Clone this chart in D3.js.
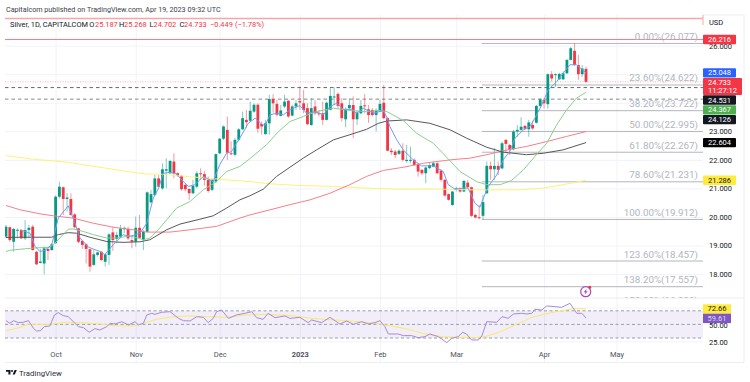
<!DOCTYPE html>
<html>

<head>
  <meta charset="utf8">
  <script src="https://d3js.org/d3.v7.min.js"></script>
  <style>
    html, body { margin: 0; padding: 0; background: #fff; }
    svg { display: block; }
    text { font-family: Roboto, sans-serif; }
    .axis text { fill: #131722; font-size: 7.5px; }
    .axis path, .axis line { display: none; }
    .grid path { display: none; }
    .grid line { stroke: #f0f3fa; }
    .grid text { display: none; }
    .month text { fill: #50535e; }
  </style>
</head>

<body>
  <svg id="chart" width="750" height="382"></svg>

  <script>
    // daily candles
    var opens = [
      19.31,19.64,19.13,19.52,19.54,19.25,19.54,19.66,18.78,18.39,
      18.37,18.88,18.84,19.08,20.71,21.04,20.63,20.63,20.09,19.60,
      19.16,19.04,18.87,18.32,18.67,18.78,18.43,18.67,19.46,19.23,
      19.31,19.57,19.58,19.19,19.13,19.62,19.19,19.48,20.51,20.77,
      21.35,21.00,21.62,21.53,21.94,21.53,21.44,21.12,20.98,20.83,
      21.06,21.53,21.50,21.30,20.95,21.24,22.23,22.74,23.05,22.23,
      22.18,22.70,23.07,23.40,23.37,23.69,23.93,23.26,22.90,23.28,
      24.13,23.96,23.54,23.87,24.07,23.55,23.87,24.06,23.98,23.81,
      23.22,23.87,23.63,23.63,23.40,23.75,24.20,24.31,23.98,23.42,
      23.81,23.92,23.42,23.63,23.91,23.77,23.75,23.57,23.69,24.00,
      23.46,22.32,22.29,22.21,22.32,21.96,21.97,22.00,21.84,21.65,
      21.53,21.71,21.76,21.88,21.62,21.30,20.80,20.42,20.95,21.00,
      20.89,21.20,21.04,20.07,19.99,20.04,20.83,21.79,21.67,21.79,
      21.70,22.70,22.52,22.37,23.00,23.05,23.19,23.07,23.22,23.30,
      23.89,24.10,23.95,25.00,24.97,24.82,24.82,25.03,25.50,25.82,
      25.32,25.00,25.187
    ];
    var closes = [
      19.66,19.19,19.58,19.55,19.25,19.54,19.62,18.84,18.34,18.44,
      18.90,18.81,19.04,20.71,21.06,20.63,20.68,20.07,19.64,19.13,
      19.02,18.88,18.26,18.69,18.76,18.49,18.69,19.39,19.19,19.37,
      19.60,19.62,19.25,19.13,19.62,19.27,19.48,20.86,20.80,21.35,
      21.06,21.67,21.67,21.96,21.53,21.47,20.97,20.97,20.83,21.09,
      21.53,21.50,21.30,20.91,21.30,22.20,22.74,23.17,22.25,22.20,
      22.70,23.07,23.46,23.32,23.72,23.93,23.09,23.17,23.28,24.13,
      23.98,23.58,23.73,24.04,23.52,23.87,23.98,24.01,23.75,23.25,
      23.81,23.63,23.60,23.40,24.00,24.24,24.22,23.89,23.46,23.77,
      23.92,23.42,23.66,23.89,23.89,23.57,23.57,23.73,23.96,23.46,
      22.32,22.27,22.17,22.32,22.00,22.00,22.00,21.82,21.59,21.53,
      21.73,21.82,21.88,21.53,21.30,20.75,20.60,20.89,21.00,20.89,
      21.26,21.04,20.04,19.98,19.96,20.52,21.79,21.67,21.79,21.65,
      22.58,22.56,22.35,22.99,23.05,23.16,23.09,23.31,23.10,23.89,
      24.12,23.98,25.00,24.85,25.00,25.01,25.03,25.50,25.91,25.32,
      25.00,25.20,24.733
    ];
    var highs = [
      19.72,19.66,19.62,19.60,19.57,19.89,19.72,19.72,18.81,18.88,
      18.96,18.90,19.08,20.75,21.24,21.06,20.83,20.83,20.13,19.62,
      19.19,19.08,18.88,18.84,18.78,18.81,18.73,19.43,19.66,19.48,
      19.72,19.66,19.66,19.31,20.01,20.07,19.54,20.89,20.94,21.47,
      21.47,21.88,22.06,22.00,22.23,21.57,21.47,21.18,21.00,21.30,
      21.60,21.70,21.62,21.42,21.35,22.22,22.77,23.20,23.52,22.64,
      22.77,23.11,23.69,23.75,24.04,23.98,23.98,23.34,23.40,24.28,
      24.30,24.10,23.93,24.28,24.10,23.93,24.10,24.57,24.45,23.98,
      24.16,24.10,23.75,24.04,24.04,24.51,24.54,24.36,24.16,23.84,
      24.16,24.22,23.73,24.10,24.31,23.92,23.81,23.81,24.10,24.62,
      23.49,22.41,22.35,22.37,22.58,22.52,22.46,22.05,21.88,21.67,
      21.76,21.88,21.96,21.92,21.67,21.32,20.83,20.91,21.06,21.04,
      21.30,21.30,21.06,20.11,20.42,20.77,21.94,21.94,22.42,21.94,
      22.64,22.72,22.56,23.05,23.22,23.49,23.22,23.40,23.37,23.92,
      24.16,24.16,25.03,25.11,25.03,25.05,25.10,25.53,25.96,26.08,
      25.67,25.32,25.268
    ];
    var lows = [
      19.25,19.13,18.78,19.25,19.23,19.19,19.25,18.82,18.32,18.37,
      17.99,18.49,18.82,19.06,20.65,20.07,20.19,20.05,19.60,19.08,
      18.88,18.37,18.08,18.29,18.61,18.46,18.26,18.32,18.81,19.08,
      19.25,19.43,19.19,18.90,18.96,19.25,18.84,19.46,20.48,20.75,
      21.04,20.95,21.00,21.51,21.36,21.41,20.92,20.90,20.60,20.80,
      21.00,21.30,21.10,20.85,20.90,21.20,22.20,22.70,22.00,22.17,
      22.12,22.64,23.05,23.11,23.32,23.65,22.95,22.88,22.88,22.88,
      23.65,23.52,23.52,23.81,23.47,23.52,23.75,23.75,23.63,23.22,
      23.19,23.57,23.52,23.22,23.38,23.73,23.92,23.81,23.34,23.14,
      23.75,22.76,23.22,23.60,23.63,23.30,23.52,22.99,23.67,23.42,
      22.30,22.17,22.05,22.17,21.94,21.90,21.88,21.79,21.41,21.47,
      21.18,21.67,21.74,21.51,21.24,20.71,20.57,20.39,20.89,20.85,
      20.87,21.00,20.00,19.95,19.92,19.92,20.81,21.30,21.30,21.47,
      21.67,22.23,22.17,22.33,22.81,23.02,23.05,22.81,23.05,23.27,
      23.85,23.80,23.80,24.74,24.56,24.80,24.80,25.01,25.48,25.30,
      24.80,24.90,24.702
    ];

    // moving averages, [bar, value] read at the visible bends
    var maBlue = [[3.7,19.55],[6.3,19.43],[7.6,18.97],[8.9,18.79],[10.2,18.83],[12,19.03],[13.7,19.96],[16.3,20.39],[17.6,19.96],[19.4,19.26],[21.6,18.94],[24.6,18.79],[25.9,18.68],[28.1,19.03],[30.7,19.38],[32.5,19.32],[35.1,19.43],[36.9,19.78],[38.6,20.66],[40,21.01],[41.2,21.53],[43,21.56],[44.7,21.51],[46,21.3],[47.8,21.07],[49.5,21.13],[51.7,21.42],[54.3,21.24],[56,21.83],[57.8,22.23],[59.1,22.29],[60.4,22.58],[61.8,22.88],[63.5,23.28],[65.3,23.46],[67,23.25],[67.9,23.2],[69.2,23.58],[70.9,23.63],[72.7,23.58],[74.4,23.75],[77,23.9],[78.8,23.63],[81,23.69],[83.2,23.58],[84.9,23.87],[86.7,23.98],[88.4,23.77],[90.6,23.77],[91.9,23.63],[93.6,23.81],[96.3,23.63],[98.9,23.73],[99.9,23.46],[100.6,23.17],[102.4,22.7],[104.1,22.35],[106.7,22.0],[108.9,21.79],[112,21.79],[114.6,21.59],[115.9,21.13],[117.7,20.97],[119.8,21.01],[121.1,21.01],[122.9,20.48],[124.2,20.34],[125.1,20.66],[126.4,21.07],[128.6,21.47],[130.3,22.0],[132,22.29],[133.4,22.76],[135.6,23.05],[137.3,23.17],[138.6,23.46],[140.4,23.92],[142.1,24.45],[144.3,24.74],[146,25.03],[147.8,25.33],[149.5,25.33],[152,25.048]];
    var maGreen = [[0,18.79],[1,18.83],[3.7,18.87],[7.2,18.91],[11.5,18.94],[12.8,19.08],[16.3,19.57],[17.6,19.58],[20.3,19.49],[22.9,19.38],[26.4,19.26],[29,19.26],[32.5,19.34],[36,19.2],[37.7,19.26],[39.9,19.55],[42.1,19.9],[44.7,20.31],[48.2,20.54],[51.7,20.95],[55.2,21.24],[57.8,21.59],[61.3,21.77],[63.9,22.04],[68.3,22.53],[71.4,22.99],[74.4,23.34],[77.9,23.52],[81.4,23.69],[85.8,23.81],[90.1,23.73],[94.5,23.69],[97.6,23.73],[99.8,23.69],[104.1,23.38],[107.6,22.93],[112,22.58],[116.4,21.96],[119,21.59],[123.3,21.24],[126,21.13],[129.5,21.13],[132.5,21.28],[135.6,21.65],[139,22.18],[141.7,22.58],[144.3,23.22],[146.9,23.75],[149.5,24.16],[152,24.367]];
    var maBlack = [[0,19.28],[3.7,19.29],[8.9,19.29],[12,19.29],[13.7,19.38],[16.3,19.45],[18.5,19.43],[22,19.29],[26.4,19.14],[30.7,19.11],[35.1,19.13],[37.7,19.2],[42.1,19.55],[45.6,19.75],[50.8,19.92],[54.3,20.04],[57.8,20.31],[61.3,20.6],[63.9,20.74],[67.4,20.97],[70.9,21.42],[74.4,21.74],[77.9,22.06],[81.4,22.35],[85.8,22.7],[90.1,22.88],[94.5,23.07],[97.6,23.28],[99.8,23.36],[105,23.4],[111.1,23.28],[116.4,23.05],[120.7,22.76],[126,22.44],[130.3,22.27],[136.4,22.18],[140.8,22.23],[146,22.35],[152,22.604]];
    var maRed = [[0,20.4],[3.7,20.25],[8.9,20.11],[12.4,20.04],[17.6,19.96],[22.9,19.78],[28.1,19.64],[33.4,19.55],[36.9,19.47],[43,19.47],[48.2,19.55],[55.2,19.67],[61.3,19.96],[63.9,20.07],[69.2,20.25],[74.4,20.43],[79.7,20.6],[84.9,20.83],[90.1,21.13],[94.5,21.42],[98.9,21.63],[104.1,21.74],[109.4,21.88],[116.4,22.0],[121.6,22.06],[126,22.18],[130.3,22.32],[136.4,22.47],[141.7,22.64],[146.9,22.82],[152,22.99]];
    var maYellow = [[0,22.15],[7.2,22.02],[15.9,21.92],[24.6,21.74],[33.4,21.56],[36.9,21.5],[40.4,21.5],[45.6,21.44],[50.8,21.38],[57.8,21.3],[63.9,21.24],[69.2,21.16],[77,21.1],[85.8,21.07],[94.5,21.01],[103.2,20.97],[112,20.98],[120.7,20.95],[126,20.95],[134.7,20.95],[140.8,21.01],[146,21.13],[152,21.286]];

    // RSI pane
    var rsiLine = [[0,55.5],[1,51.6],[2,55.5],[3.2,52.6],[4.5,53.1],[5.9,55.5],[7.2,44.2],[8,40.3],[9.1,40.8],[10,46.7],[11.5,47.7],[12.7,63.9],[13.7,67.3],[15,62.9],[16.3,61.4],[19,46.7],[20.3,45.2],[21.8,38.4],[23.3,43.8],[24.6,41.8],[26.4,46.7],[27.3,51.6],[28.6,50.6],[30.3,54],[32.1,49.2],[33.8,54],[34.7,49.2],[36,51.6],[36.9,63.9],[38.2,66.3],[39,64.8],[40.8,67.8],[43,68.7],[45.2,58.9],[46.5,55.5],[48.2,55],[50,61.4],[51.7,60.4],[53,52.6],[54.3,58.9],[55.2,68.7],[56.5,71.2],[58.3,58.9],[60.4,63.9],[62.6,66.3],[64.4,68.7],[65.7,59.9],[67.4,57.5],[68.7,66.3],[70.5,59.9],[73.1,62.4],[74.4,58.9],[77,60.4],[79.2,52.6],[80.1,56.5],[82.7,52.6],[84.9,60.4],[87.5,50.6],[89.3,55],[91,50.1],[93.2,54],[95,50.6],[96.7,52.6],[98,55.5],[99.3,46.7],[100.2,35.9],[102.8,35.9],[104.1,33.5],[106.3,33.5],[108,30.5],[109.8,32],[111.1,35.9],[113.3,32],[115.5,23.2],[116.8,29.5],[118.5,32],[119.7,38.4],[120.7,35.9],[122,27.1],[123.8,27.1],[124.7,33],[126,54],[128.6,53.1],[130,61.4],[131.6,59],[133,65.3],[135.1,66.3],[136.5,65.3],[137.8,66.3],[138.6,72.2],[140.4,71.2],[141.7,77.1],[143.9,76.1],[145.6,75.1],[147.8,81],[149.6,66.3],[150.9,66.3],[152,59.61]];
    var rsiAvg = [[0,40.8],[2.8,44.2],[5.9,50.1],[11.5,50.1],[15.9,53.1],[19.4,52.6],[24.6,50.6],[29,47.7],[33.4,47.7],[36,51.6],[39.5,57.5],[43.9,61.4],[48.2,62.4],[52.6,61.4],[57.8,60.4],[63.1,63.9],[68.3,64.8],[75.3,62.9],[79.7,59],[85.8,56.5],[92.8,54],[96.7,51.6],[101,47.7],[105.4,42.8],[109.8,35.9],[114.2,32],[118.5,31],[122.9,30.5],[125.5,32],[129,37.9],[133.4,49.2],[137.8,60.4],[142.1,66.3],[146.5,71.2],[149,73.2],[152,72.66]];
    var rsiLevels = [70, 50, 30];

    // fibonacci retracement
    var fibPercents = ['0.00%', '23.60%', '38.20%', '50.00%', '61.80%', '78.60%', '100.00%', '123.60%', '138.20%', '150.00%'];
    var fibValues = [26.077, 24.622, 23.722, 22.995, 22.267, 21.231, 19.912, 18.457, 17.557, 16.830];

    // time axis
    var monthBars = [13, 34, 56, 77, 98, 118, 141, 160];
    var monthLabels = ['Oct', 'Nov', 'Dec', '2023', 'Feb', 'Mar', 'Apr', 'May'];

    // 25 and 24 sit behind the price tags, so they only get a grid line
    var gridTicks = [26, 25, 24, 23, 22, 21, 20, 19, 18];
    var priceTicks = [26, 23, 22, 21, 20, 19, 18];
    var rsiTicks = [50, 25];

    // price tags on the right
    var tagValues = [26.216, 25.048, 24.733, 24.531, 24.367, 24.126, 22.604, 21.286];
    var tagColors = ['#f23645', '#2962ff', '#f23645', '#131722', '#4caf50', '#131722', '#000000', '#ffeb3b'];
    var rsiTagValues = [72.66, 59.61];
    var rsiTagColors = ['#ffeb3b', '#7e57c2'];

    // legend pieces
    var legendTexts = ['Silver, 1D, CAPITALCOM', 'O', '25.187', 'H', '25.268', 'L', '24.702', 'C', '24.733', '\u22120.449', '(\u22121.78%)'];
    var legendAt = [10, 89.3, 95, 119, 124, 149.5, 153.5, 179.5, 184, 210, 235];

    var chart = d3.select('#chart');
    var paneLeft = 5, paneRight = 703, axisEdge = 744, paneTop = 15, paneBottom = 298, chartBottom = 362;
    var red = '#f23645', green = '#089981';

    var x = d3.scaleLinear().domain([0, 152]).range([6, 586]);
    var y = d3.scaleLinear().domain([18, 26]).range([274.05, 45.65]);
    var yRsi = d3.scaleLinear().domain([25, 50]).range([341.4, 324.4]);

    chart.append('defs').append('clipPath').attr('id', 'main')
      .append('rect').attr('x', paneLeft).attr('y', paneTop).attr('width', paneRight - paneLeft).attr('height', paneBottom - paneTop);

    // grid
    chart.append('g')
      .attr('class', 'grid')
      .attr('transform', 'translate(' + paneRight + ',0)')
      .call(d3.axisLeft(y).tickValues(gridTicks).tickSize(paneRight - paneLeft));
    chart.append('g')
      .attr('class', 'grid')
      .attr('transform', 'translate(' + paneRight + ',0)')
      .call(d3.axisLeft(yRsi).tickValues([25, 75]).tickSize(paneRight - paneLeft));
    chart.append('g')
      .attr('class', 'grid')
      .attr('transform', 'translate(0,' + chartBottom + ')')
      .call(d3.axisTop(x).tickValues(monthBars).tickSize(chartBottom - paneTop));

    // frame
    var frame = chart.append('g').attr('stroke', '#eceef3').attr('fill', 'none');
    frame.append('path').attr('d', 'M' + paneLeft + ',' + paneBottom + 'H' + axisEdge);
    frame.append('path').attr('d', 'M' + paneLeft + ',' + (chartBottom + .5) + 'H' + axisEdge);
    frame.append('path').attr('d', 'M' + axisEdge + ',' + paneTop + 'V' + chartBottom);
    frame.append('path').attr('d', 'M' + paneRight + ',' + paneTop + 'H' + axisEdge);

    var main = chart.append('g').attr('clip-path', 'url(#main)');

    // horizontal levels
    main.append('line').attr('x1', paneLeft).attr('x2', paneRight)
      .attr('y1', y(26.95)).attr('y2', y(26.95))
      .attr('stroke', '#f7a5ab').attr('stroke-width', 1.6);
    main.append('line').attr('x1', paneLeft).attr('x2', paneRight)
      .attr('y1', y(26.216)).attr('y2', y(26.216))
      .attr('stroke', '#ee7f88').attr('stroke-width', 1);
    main.append('line').attr('x1', paneLeft).attr('x2', paneRight)
      .attr('y1', y(24.733)).attr('y2', y(24.733))
      .attr('stroke', '#f9b4ba').attr('stroke-dasharray', '1 1.5');
    main.append('line').attr('x1', paneLeft).attr('x2', paneRight)
      .attr('y1', y(24.531)).attr('y2', y(24.531))
      .attr('stroke', '#666').attr('stroke-dasharray', '3.5 3');
    main.append('line').attr('x1', paneLeft).attr('x2', paneRight)
      .attr('y1', y(24.126)).attr('y2', y(24.126))
      .attr('stroke', '#888').attr('stroke-dasharray', '3.5 3');

    // fib lines and labels
    main.selectAll('.fib')
      .data(fibValues)
      .enter()
      .append('line')
      .attr('class', 'fib')
      .attr('x1', x(124.7))
      .attr('x2', paneRight)
      .attr('y1', (d) => y(d))
      .attr('y2', (d) => y(d))
      .attr('stroke', '#b4b6bc');

    main.selectAll('.fib-label')
      .data(fibValues)
      .enter()
      .append('text')
      .attr('class', 'fib-label')
      .attr('x', 698)
      .attr('y', (d) => y(d) - 3.5)
      .attr('text-anchor', 'end')
      .attr('fill', '#b2b5be')
      .attr('font-size', '9.8px')
      .text((d, i) => fibPercents[i] + '(' + d.toFixed(3) + ')');

    // rsi band
    chart.append('rect')
      .attr('x', paneLeft).attr('width', paneRight - paneLeft)
      .attr('y', yRsi(70)).attr('height', yRsi(30) - yRsi(70))
      .attr('fill', '#7e57c2').attr('opacity', .1);
    chart.selectAll('.rsi-level')
      .data(rsiLevels)
      .enter()
      .append('line')
      .attr('class', 'rsi-level')
      .attr('x1', paneLeft).attr('x2', paneRight)
      .attr('y1', (d) => yRsi(d)).attr('y2', (d) => yRsi(d))
      .attr('stroke', '#9a9ca6')
      .attr('stroke-dasharray', '3 2.5');

    // candles
    var bars = d3.range(closes.length);
    main.selectAll('.wick')
      .data(bars)
      .enter()
      .append('line')
      .attr('class', 'wick')
      .attr('x1', (i) => x(i)).attr('x2', (i) => x(i))
      .attr('y1', (i) => y(highs[i])).attr('y2', (i) => y(lows[i]))
      .attr('stroke', (i) => closes[i] >= opens[i] ? green : red)
      .attr('stroke-opacity', .5);
    main.selectAll('.bar')
      .data(bars)
      .enter()
      .append('rect')
      .attr('class', 'bar')
      .attr('x', (i) => x(i) - 1.4)
      .attr('width', 2.8)
      .attr('y', (i) => y(Math.max(opens[i], closes[i])))
      .attr('height', (i) => Math.max(1, Math.abs(y(opens[i]) - y(closes[i]))))
      .attr('fill', (i) => closes[i] >= opens[i] ? green : red);

    // moving averages
    var line = d3.line().x((d) => x(d[0])).y((d) => y(d[1]));
    var rsiPath = d3.line().x((d) => x(d[0])).y((d) => yRsi(d[1]));

    [[maYellow, '#fff176'], [maRed, '#f7808a'], [maBlack, '#585858'], [maGreen, '#8ccf8f'], [maBlue, '#6f9cf8']].forEach((m) => {
      main.append('path')
        .attr('d', line(m[0]))
        .attr('fill', 'none')
        .attr('stroke', m[1])
        .attr('stroke-width', 1);
    });

    chart.append('path').attr('d', rsiPath(rsiAvg))
      .attr('fill', 'none').attr('stroke', '#fbe96a').attr('stroke-width', 1);
    chart.append('path').attr('d', rsiPath(rsiLine))
      .attr('fill', 'none').attr('stroke', '#a58bd6').attr('stroke-width', 1);

    // axes
    chart.append('g')
      .attr('class', 'axis')
      .attr('transform', 'translate(' + paneRight + ',0)')
      .call(d3.axisRight(y).tickValues(priceTicks).tickSize(0).tickPadding(6).tickFormat(d3.format('.3f')));
    chart.append('g')
      .attr('class', 'axis')
      .attr('transform', 'translate(' + paneRight + ',1)')
      .call(d3.axisRight(yRsi).tickValues(rsiTicks).tickSize(0).tickPadding(6).tickFormat(d3.format('.2f')));
    chart.append('g')
      .attr('class', 'axis month')
      .attr('transform', 'translate(0,352)')
      .call(d3.axisBottom(x).tickValues(monthBars).tickSize(0).tickPadding(0).tickFormat((d, i) => monthLabels[i]));
    chart.selectAll('.month text').attr('font-weight', (d, i) => monthLabels[i] === '2023' ? 'bold' : null);

    chart.append('text').attr('x', 709).attr('y', 25).attr('font-size', '7.5px').attr('fill', '#131722').text('USD');
    chart.append('path').attr('d', 'M' + paneRight + ',15V25').attr('stroke', '#f7a5ab');

    // tags, stacked when they would overlap
    var tagH = 9.4;
    var next = 0;
    tagValues.forEach((v, i) => {
      var isCountdown = i === 2;
      var h = isCountdown ? 17 : tagH;
      var yTop = Math.max(y(v) - tagH / 2, next);
      next = yTop + h + .4;
      chart.append('rect')
        .attr('x', paneRight).attr('y', yTop)
        .attr('width', isCountdown ? 39 : 33).attr('height', h)
        .attr('rx', 1).attr('fill', tagColors[i]);
      chart.append('text')
        .attr('x', paneRight + 16.5).attr('y', yTop + 7.2)
        .attr('text-anchor', 'middle').attr('font-size', '7.5px')
        .attr('fill', tagColors[i] === '#ffeb3b' ? '#131722' : '#fff')
        .text(v.toFixed(3));
      if (isCountdown) {
        chart.append('text')
          .attr('x', paneRight + 19.5).attr('y', yTop + 15)
          .attr('text-anchor', 'middle').attr('font-size', '7.5px')
          .attr('fill', '#fff').text('11:27:12');
      }
    });

    next = 0;
    rsiTagValues.forEach((v, i) => {
      var yTop = Math.max(yRsi(v) - 4.7, next);
      next = yTop + tagH;
      chart.append('rect')
        .attr('x', paneRight).attr('y', yTop)
        .attr('width', 28).attr('height', tagH)
        .attr('fill', rsiTagColors[i]);
      chart.append('text')
        .attr('x', paneRight + 14).attr('y', yTop + 7.2)
        .attr('text-anchor', 'middle').attr('font-size', '7.5px')
        .attr('fill', i === 0 ? '#131722' : '#ddd6f0')
        .text(v.toFixed(2));
    });

    // header
    chart.append('text')
      .attr('x', 6).attr('y', 12)
      .attr('font-size', '7.2px').attr('fill', '#3b3e48')
      .text('Capitalcom published on TradingView.com, Apr 19, 2023 09:32 UTC');

    chart.selectAll('.legend')
      .data(legendTexts)
      .enter()
      .append('text')
      .attr('class', 'legend')
      .attr('x', (d, i) => legendAt[i])
      .attr('y', 27)
      .attr('font-size', '7.4px')
      .attr('fill', (d, i) => i === 0 || i === 1 || i === 3 || i === 5 || i === 7 ? '#131722' : red)
      .text((d) => d);

    // lightning badge
    var badge = chart.append('g').attr('transform', 'translate(585.7,291.7)');
    badge.append('circle').attr('r', 5).attr('fill', '#fff').attr('stroke', '#ab47bc').attr('stroke-width', 1.2);
    badge.append('path').attr('d', 'M1,-3L-2,0.5H-0.2L-1,3L2,-0.5H0.2Z').attr('fill', '#ab47bc');
    badge.append('circle').attr('cx', 4).attr('cy', -4.4).attr('r', 1.5).attr('fill', red);

    // footer logo
    var logo = chart.append('g').attr('transform', 'translate(6,370)').attr('fill', '#131722');
    logo.append('path').attr('d', 'M0,0H4.5V4.4H2.4V1.8H0Z');
    logo.append('circle').attr('cx', 6).attr('cy', 1).attr('r', 1);
    logo.append('path').attr('d', 'M8.6,0H10.8L8.8,4.4H6.6Z');
    chart.append('text')
      .attr('x', 19).attr('y', 376)
      .attr('font-size', '7.8px').attr('fill', '#2a2e39')
      .text('TradingView');
  </script>
</body>

</html>
